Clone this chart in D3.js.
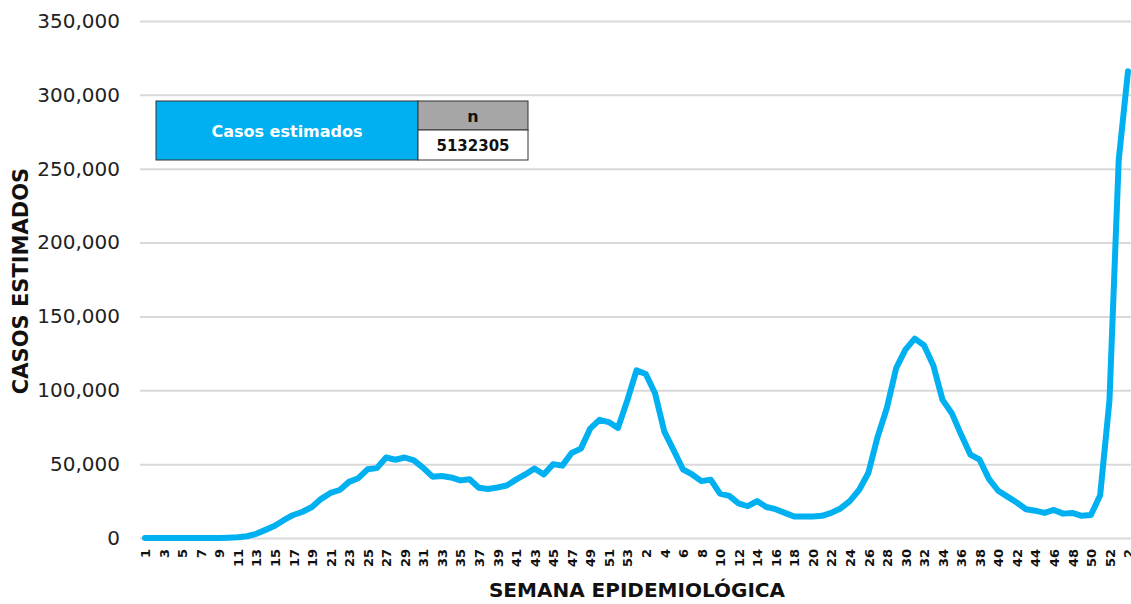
<!DOCTYPE html>
<html><head><meta charset="utf-8">
<script src="https://cdn.jsdelivr.net/npm/d3@7"></script>
<style>
html,body{margin:0;padding:0;background:#fff;}
svg{display:block;font-family:"DejaVu Sans",sans-serif;}
</style></head>
<body>
<svg id="chart" width="1131" height="604"></svg>
<script>
// Week labels: 2020 weeks 1-53, 2021 weeks 1-52, 2022 weeks 1-2
const weeks2020 = d3.range(1, 54);
const weeks2021 = d3.range(1, 53);
const weeks2022 = [1, 2];
const weekLabels = [...weeks2020, ...weeks2021, ...weeks2022];

const values2020 = [0,0,0,0,0,0,0,0,0,200,500,1200,2800,5500,8300,12200,15600,17800,21000,26500,
  30500,32500,38000,40500,46500,47300,54500,53000,54500,52500,47500,41500,42000,41000,39000,39800,
  34000,33200,34200,35500,39500,43000,47000,43000,50000,49000,57500,60500,74000,80000,78500,74500,93000];
const values2021 = [113500,111000,98000,72000,59500,46500,43000,38500,39500,30000,28500,23500,21500,25000,
  21000,19500,17000,14500,14500,14500,15000,17000,20000,25000,32500,44000,68500,88000,115000,127500,
  135000,130500,117000,93500,84500,70000,56500,53000,40000,32000,28000,24000,19500,18500,17000,19000,
  16500,17000,15000,15500,29000,93000];
const values2022 = [256000,316000];
const values = [...values2020, ...values2021, ...values2022];

const yTicks = [0,50000,100000,150000,200000,250000,300000,350000];
const tableLabel = "Casos estimados";
const tableHeader = "n";
const tableTotal = "5132305";

const svg = d3.select("#chart");
const left = 140, right = 1131, x0 = 145, x1 = 1128, yTop = 21, yBot = 538;

const x = d3.scaleLinear().domain([0, values.length - 1]).range([x0, x1]);
const y = d3.scaleLinear().domain([0, 350000]).range([yBot, yTop]);

// Y axis with grid
const yAxis = d3.axisLeft(y).tickValues(yTicks)
  .tickFormat(d3.format(","))
  .tickSizeInner(-(right - left)).tickSizeOuter(0).tickPadding(20);
const gy = svg.append("g").attr("transform", `translate(${left},0)`).call(yAxis);
gy.select(".domain").remove();
gy.selectAll(".tick line").attr("stroke", "#d9d9d9").attr("stroke-width", 2);
gy.selectAll(".tick text").attr("font-size", 20).attr("fill", "#222")
  .attr("font-family", "DejaVu Sans");

// X axis
const evenIdx = d3.range(0, values.length, 2);
const xAxis = d3.axisBottom(x).tickValues(evenIdx)
  .tickFormat(i => weekLabels[i]).tickSize(0);
const gx = svg.append("g").attr("transform", `translate(0,${yBot})`).call(xAxis);
gx.select(".domain").remove();
gx.selectAll(".tick text")
  .attr("transform", "rotate(-90)")
  .attr("x", -11).attr("y", 0).attr("dy", "0.36em")
  .attr("text-anchor", "end")
  .attr("font-size", 13).attr("font-weight", "bold").attr("fill", "#111")
  .attr("font-family", "DejaVu Sans");

// Line
const line = d3.line().x((d, i) => x(i)).y(d => y(d)).curve(d3.curveLinear);
svg.append("path").datum(values)
  .attr("d", line).attr("fill", "none")
  .attr("stroke", "#00b0f0").attr("stroke-width", 6)
  .attr("stroke-linejoin", "round").attr("stroke-linecap", "round");

// Axis titles
svg.append("text").attr("x", 637).attr("y", 597).attr("text-anchor", "middle")
  .attr("font-size", 20).attr("font-weight", "bold").attr("fill", "#111")
  .text("SEMANA EPIDEMIOLÓGICA");
svg.append("text").attr("transform", "translate(28,281) rotate(-90)")
  .attr("text-anchor", "middle")
  .attr("font-size", 21).attr("font-weight", "bold").attr("fill", "#111")
  .text("CASOS ESTIMADOS");

// Table
const tb = svg.append("g");
tb.append("rect").attr("x", 156).attr("y", 101).attr("width", 262).attr("height", 59)
  .attr("fill", "#00b0f0").attr("stroke", "#333").attr("stroke-width", 1);
tb.append("rect").attr("x", 418).attr("y", 101).attr("width", 110).attr("height", 29)
  .attr("fill", "#a6a6a6").attr("stroke", "#333").attr("stroke-width", 1);
tb.append("rect").attr("x", 418).attr("y", 130).attr("width", 110).attr("height", 30)
  .attr("fill", "#fff").attr("stroke", "#333").attr("stroke-width", 1);
tb.append("text").attr("x", 287).attr("y", 131).attr("dy", "0.36em").attr("text-anchor", "middle")
  .attr("font-size", 16).attr("font-weight", "bold").attr("fill", "#fff").text(tableLabel);
tb.append("text").attr("x", 473).attr("y", 116).attr("dy", "0.36em").attr("text-anchor", "middle")
  .attr("font-size", 16).attr("font-weight", "bold").attr("fill", "#111").text(tableHeader);
tb.append("text").attr("x", 473).attr("y", 146).attr("dy", "0.36em").attr("text-anchor", "middle")
  .attr("font-size", 15).attr("font-weight", "bold").attr("fill", "#111").text(tableTotal);
</script>
</body></html>
